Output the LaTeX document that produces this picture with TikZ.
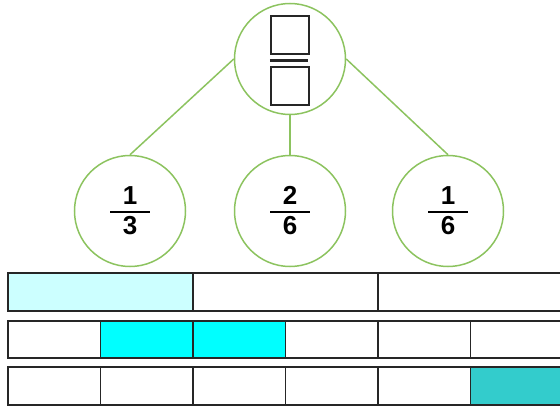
\documentclass[tikz,border=0pt]{standalone}
\usepackage{fontspec}
\setsansfont{Liberation Sans}
\usepackage{tikz}
\usetikzlibrary{
  positioning,
}
\definecolor{leafgreen}{RGB}{140, 195, 95}
\definecolor{palecyan}{RGB}{204, 255, 255}
\definecolor{brightcyan}{RGB}{0, 255, 255}
\definecolor{tealpart}{RGB}{51, 204, 204}
\tikzstyle{part} = [
  draw=black!85,
  line width=1.8pt,
]
\newcommand{\partfrac}[2]{%
  \raisebox{0pt}[\dimexpr\height+5pt\relax]{\begin{tabular}{@{}c@{}}#1\\[-19pt]\rule{40pt}{2pt}\\[-7pt]#2\end{tabular}}}

\begin{document}
\begin{tikzpicture}[
      x=1pt, y=-1pt,
      every node/.style={font=\sffamily\bfseries\fontsize{26}{28}\selectfont},
      bubble/.style={circle, draw=leafgreen, line width=1.5pt, minimum size=111pt, inner sep=0pt},
      blank/.style={draw=black!85, line width=2.2pt, minimum size=38pt, inner sep=0pt},
    ]
      \useasboundingbox (0,0) rectangle (560,406);
      \node [bubble] (whole) at (290,59) {};
      \node [blank] (numbox) at (290,35) {};
      \node [blank] (denbox) at (290,86) {};
      \draw [black!85, line width=2.2pt] (numbox.south west) ++(0,5.5) -- ++(38,0);
      \node [bubble] (third) at (130,211) {\partfrac{1}{3}};
      \node [bubble] (twosixths) at (290,211) {\partfrac{2}{6}};
      \node [bubble] (sixth) at (448,211) {\partfrac{1}{6}};
      \path [draw=leafgreen, line width=1.5pt]
                 (whole.west) edge (third.north)
                 (whole.south) edge (twosixths.north)
                 (whole.east) edge (sixth.north);
      % fraction strips
      \begin{scope}
        \clip (0,0) rectangle (560,406);
        \filldraw [part, fill=palecyan] (8,273) rectangle (193,311);
        \draw [part] (193,273) rectangle (378,311);
        \draw [part] (378,273) rectangle (563,311);
        \foreach \i in {0,...,5} {
          \pgfmathsetmacro{\xa}{8+92.5*\i}
          \pgfmathsetmacro{\xb}{8+92.5*(\i+1)}
          \draw [part] (\xa,321) rectangle (\xb,358);
          \draw [part] (\xa,367) rectangle (\xb,405);
        }
        \filldraw [part, fill=brightcyan] (100.5,321) rectangle (193,358);
        \filldraw [part, fill=brightcyan] (193,321) rectangle (285.5,358);
        \filldraw [part, fill=tealpart] (470.5,367) rectangle (563,405);
      \end{scope}
    \end{tikzpicture}
\end{document}
